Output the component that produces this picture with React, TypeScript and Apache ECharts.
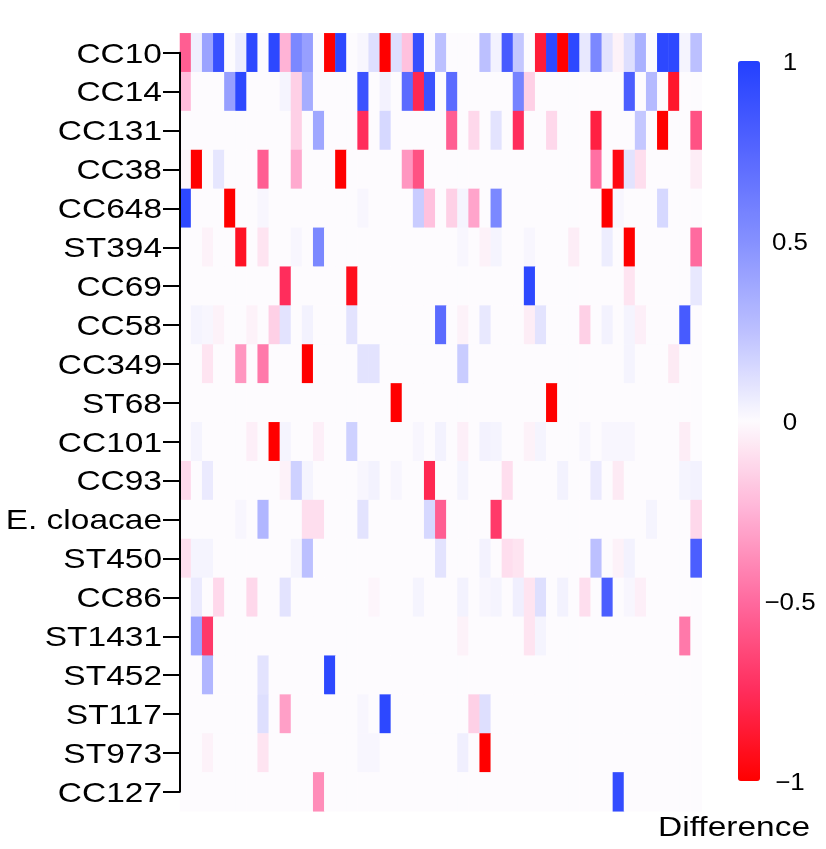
import React, { useEffect, useRef } from "react";
import * as echarts from "echarts";

// Row (strain) names, top to bottom
const rowNames = [
  "CC10", "CC14", "CC131", "CC38", "CC648", "ST394", "CC69", "CC58", "CC349", "ST68",
  "CC101", "CC93", "E. cloacae", "ST450", "CC86", "ST1431", "ST452", "ST117", "ST973", "CC127",
];

// One array per row: 47 column values each (difference, -1..1)
const CC10 = [
  -0.55, 0.05, 0.4, 0.9, 0, 0.06, 0.95, 0, 0.95, -0.25,
  0.55, 0.42, 0, -1, 0.95, 0, 0.02, 0.12, -1, 0.12,
  -0.2, 0.9, 0, 0.25, 0, 0, 0, 0.25, 0.04, 0.82,
  0.22, 0, -0.85, 0.95, -1, 0.95, 0.08, 0.55, 0.1, -0.03,
  0.12, 0.33, 0, 0.95, 0.95, 0.03, 0.25,
];
const CC14 = [
  -0.22, 0, 0, 0, 0.42, 0.95, 0, 0, 0, 0.03,
  -0.15, 0.35, 0, 0, 0, 0, 0.88, 0, 0.04, 0,
  0.72, -0.78, 0.88, 0, 0.72, 0, 0, 0, 0, 0,
  0.58, -0.15, 0, 0, 0, 0, 0, 0, 0, 0,
  0.8, 0, 0.28, 0, -0.88, 0, 0,
];
const CC131 = [
  0, 0, 0, 0, 0, 0, 0, 0, 0, 0,
  -0.15, 0, 0.38, 0, 0, 0, -0.75, 0, 0.15, 0,
  0, 0, 0, 0, -0.55, 0, -0.12, 0, 0.1, 0,
  -0.75, 0, 0, -0.12, 0, 0, 0, -0.82, 0, 0,
  0, 0.22, 0, -1, 0, 0, -0.6,
];
const CC38 = [
  -0.02, -1, 0, 0.09, 0, 0, 0, -0.55, 0, 0,
  -0.28, 0, 0, 0, -1, 0, 0, 0, 0, 0,
  -0.35, -0.6, 0, 0, 0, 0, 0, 0, 0, 0,
  0, 0, 0, 0, 0, 0, 0, -0.48, 0, -0.95,
  0.1, -0.1, 0, 0, 0, 0, -0.05,
];
const CC648 = [
  0.95, 0, 0, 0, -1, 0, 0, 0.02, 0, 0,
  0, 0, 0, 0, 0, 0, 0.02, 0, 0, 0,
  0, 0.2, -0.2, 0, -0.15, 0.03, -0.3, 0, 0.55, 0,
  0, 0, 0, 0, 0, 0, 0, 0, -1, 0.02,
  0, 0, 0, 0.15, 0, 0, 0,
];
const ST394 = [
  0, 0, -0.03, 0, 0, -0.9, 0, -0.08, 0, 0,
  0.02, 0, 0.55, 0, 0, 0, 0, 0, 0, 0,
  0, 0, 0, 0, 0, 0.02, 0, -0.03, 0.03, 0,
  0, 0.02, 0, 0, 0, -0.05, 0, 0, 0.06, 0,
  -1, 0, 0, 0, 0, 0, -0.5,
];
const CC69 = [
  0, 0, 0, 0, 0, 0, 0, 0, 0, -0.75,
  0, 0, 0, 0, 0, -0.92, 0, 0, 0, 0,
  0, 0, 0, 0, 0, 0, 0, 0, 0, 0,
  0, 0.95, 0, 0, 0, 0, 0, 0, 0, 0,
  -0.08, 0, 0, 0, 0, 0, 0.08,
];
const CC58 = [
  0, 0.03, 0.02, -0.03, 0, 0, -0.03, 0, -0.15, 0.1,
  0, 0.04, 0, 0, 0, 0.1, 0, 0, 0, 0,
  0, 0, 0, 0.72, 0, -0.03, 0, 0.08, 0, 0,
  0, -0.05, 0.1, 0, 0, 0, -0.15, 0, 0.04, 0,
  0.03, -0.04, 0, 0, 0, 0.82, 0,
];
const CC349 = [
  0, 0, -0.08, 0, 0, -0.35, 0, -0.45, 0, 0,
  0, -1, 0, 0, 0, 0, 0.1, 0.1, 0, 0,
  0, 0, 0, 0, 0, 0.2, 0, 0, 0, 0,
  0, 0, 0, 0, 0, 0, 0, 0, 0, 0,
  0.03, 0, 0, 0, -0.06, 0, 0,
];
const ST68 = [
  0, 0, 0, 0, 0, 0, 0, 0, 0, 0,
  0, 0, 0, 0, 0, 0, 0, 0, 0, -1,
  0, 0, 0, 0, 0, 0, 0, 0, 0, 0,
  0, 0, 0, -1, 0, 0, 0, 0, 0, 0,
  0, 0, 0, 0, 0, 0, 0,
];
const CC101 = [
  0, 0.03, 0, 0, 0, 0, -0.04, 0, -1, 0.03,
  0, 0, -0.04, 0, 0, 0.18, 0, 0, 0, 0,
  0, 0.02, 0, 0.04, 0, -0.04, 0, 0.04, 0.03, 0,
  0, -0.03, 0.03, 0, 0, 0, 0.02, 0, 0.02, 0.02,
  0.02, 0, 0, 0, 0, -0.05, 0,
];
const CC93 = [
  -0.12, 0, 0.07, 0, 0, 0, 0, 0, 0, -0.03,
  0.18, 0.03, 0, 0, 0, 0, 0.02, 0.04, 0, 0.02,
  0, 0, -0.78, 0, 0, 0.03, 0, 0, 0, -0.1,
  0, 0, 0, 0, 0.04, 0, 0, 0.07, 0, -0.06,
  0, 0, 0, 0, 0, 0.03, 0.04,
];
const ECloacae = [
  0, 0, 0, 0, 0, 0.02, 0, 0.3, 0, 0,
  0, -0.1, -0.1, 0, 0, 0, 0.1, 0, 0, 0,
  0, 0, 0.15, -0.55, 0, 0, 0, 0, -0.7, 0,
  0, 0, 0, 0, 0, 0, 0, 0, 0, 0,
  0, 0, 0.03, 0, 0, 0, -0.12,
];
const ST450 = [
  -0.1, 0.03, 0.03, 0, 0, 0, 0, 0, 0, 0,
  0.03, 0.25, 0, 0, 0, 0, 0, 0, 0, 0,
  0, 0, 0, 0.1, 0, 0, 0, 0.04, 0, -0.1,
  -0.08, 0, 0, 0, 0, 0, 0, 0.25, 0, -0.03,
  0.04, 0, 0, 0, 0, 0, 0.8,
];
const CC86 = [
  0, 0.07, 0, -0.12, 0, 0, -0.12, 0, 0, 0.1,
  0, 0, 0, 0, 0, 0, 0, -0.02, 0, 0,
  0, 0.03, 0, 0, 0, 0.04, 0, 0.02, 0.03, 0,
  0.05, -0.08, 0.12, 0, 0.04, 0, -0.1, 0, 0.8, 0,
  0.02, -0.04, 0, 0, 0, 0, 0,
];
const ST1431 = [
  0, 0.4, -0.7, 0, 0, 0, 0, 0, 0, 0,
  0, 0, 0, 0, 0, 0, 0, 0, 0, 0,
  0, 0, 0, 0, 0, -0.03, 0, 0, 0, 0,
  0, -0.08, 0.03, 0, 0, 0, 0, 0, 0, 0,
  0, 0, 0, 0, 0, -0.45, 0,
];
const ST452 = [
  0, 0, 0.3, 0, 0, 0, 0, 0.1, 0, 0,
  0, 0, 0, 0.95, 0, 0, 0, 0, 0, 0,
  0, 0, 0, 0, 0, 0, 0, 0, 0, 0,
  0, 0, 0, 0, 0, 0, 0, 0, 0, 0,
  0, 0, 0, 0, 0, 0, 0,
];
const ST117 = [
  0, 0, 0, 0, 0, 0, 0, 0.12, 0, -0.32,
  0, 0, 0, 0, 0, 0, 0.02, 0, 0.95, 0,
  0, 0, 0, 0, 0, 0, -0.15, 0.12, 0, 0,
  0, 0, 0, 0, 0, 0, 0, 0, 0, 0,
  0, 0, 0, 0, 0, 0, 0,
];
const ST973 = [
  0, 0, -0.03, 0, 0, 0, 0, -0.08, 0, 0,
  0, 0, 0, 0, 0, 0, 0.02, 0.02, 0, 0,
  0, 0, 0, 0, 0, 0.05, 0, -1, 0, 0,
  0, 0, 0, 0, 0, 0, 0, 0, 0, 0,
  0, 0, 0, 0, 0, 0, 0,
];
const CC127 = [
  0, 0, 0, 0, 0, 0, 0, 0, 0, 0,
  0, 0, -0.38, 0, 0, 0, 0, 0, 0, 0,
  0, 0, 0, 0, 0, 0, 0, 0, 0, 0,
  0, 0, 0, 0, 0, 0, 0, 0, 0, 0.92,
  0, 0, 0, 0, 0, 0, 0,
];

const rowValues = [
  CC10, CC14, CC131, CC38, CC648, ST394, CC69, CC58, CC349, ST68,
  CC101, CC93, ECloacae, ST450, CC86, ST1431, ST452, ST117, ST973, CC127,
];

// Colour-bar tick labels and title
const legendTicks = [1, 0.5, 0, -0.5, -1];
const legendTitle = "Difference";

const FONT = "'Liberation Sans', Arial, Helvetica, sans-serif";
const SX = 1.24; // horizontal stretch of the text in the reference

export default function App() {
  const ref = useRef<HTMLDivElement>(null);

  useEffect(() => {
    if (!ref.current) return;
    const chart = echarts.init(ref.current, null, { renderer: "svg" });
    const columns = CC10.map((_, i) => "S" + (i + 1));
    const heatData: number[][] = [];
    rowValues.forEach((vals, r) => vals.forEach((v, c) => heatData.push([c, r, v])));

    const fmt = (v: number) => (v < 0 ? "\u2212" + String(-v) : String(v));

    chart.setOption({
      animation: false,
      textStyle: { fontFamily: FONT },
      grid: [
        { left: 180, top: 33.3, width: 521.7, height: 778 },
        { left: 180, top: 52.75, width: 521.7, height: 739.1 },
        { left: 738, top: 61, width: 22, height: 720 },
      ],
      xAxis: [
        { type: "category", data: columns, gridIndex: 0, show: false },
        { type: "value", gridIndex: 1, min: 0, max: 1, show: false },
        { type: "value", gridIndex: 2, min: 0, max: 1, show: false },
      ],
      yAxis: [
        { type: "category", data: rowNames, gridIndex: 0, inverse: true, show: false },
        {
          type: "category",
          data: rowNames,
          gridIndex: 1,
          inverse: true,
          boundaryGap: false,
          z: 5,
          axisLine: { show: true, lineStyle: { color: "#000", width: 2 } },
          axisTick: { show: true, length: 17, lineStyle: { color: "#000", width: 2 } },
          axisLabel: { show: false },
          splitLine: { show: false },
        },
        { type: "value", gridIndex: 2, min: -1, max: 1, interval: 0.5, show: false },
      ],
      visualMap: {
        type: "continuous",
        min: -1,
        max: 1,
        seriesIndex: 0,
        calculable: false,
        hoverLink: false,
        orient: "vertical",
        left: 738,
        top: 61,
        itemWidth: 22,
        itemHeight: 720,
        padding: 0,
        text: ["", ""],
        inRange: {
          color: [
            "#ff0000", "#ff2d5c", "#ff6a9f", "#ffb3d6", "#fdfbfe",
            "#bcc0ff", "#8590ff", "#5566ff", "#2340ff",
          ],
        },
      },
      series: [
        {
          type: "heatmap",
          xAxisIndex: 0,
          yAxisIndex: 0,
          data: heatData,
          itemStyle: { borderWidth: 0 },
          emphasis: { disabled: true },
          silent: true,
        },
        {
          type: "custom",
          xAxisIndex: 1,
          yAxisIndex: 1,
          clip: false,
          silent: true,
          z: 10,
          data: rowNames.map((_, i) => [0, i]),
          renderItem: (params: any, api: any) => {
            const p = api.coord([api.value(0), api.value(1)]);
            return {
              type: "text",
              x: p[0] - 18,
              y: p[1],
              scaleX: SX,
              style: {
                text: rowNames[params.dataIndex],
                fontSize: 27,
                fontFamily: FONT,
                fill: "#000",
                align: "right",
                verticalAlign: "middle",
              },
            };
          },
        },
        {
          type: "custom",
          xAxisIndex: 2,
          yAxisIndex: 2,
          clip: false,
          silent: true,
          z: 10,
          data: legendTicks.map((v) => [1, v]),
          renderItem: (params: any, api: any) => {
            const p = api.coord([api.value(0), api.value(1)]);
            return {
              type: "text",
              x: p[0] + 30,
              y: p[1],
              scaleX: 1.08,
              style: {
                text: fmt(legendTicks[params.dataIndex]),
                fontSize: 24,
                fontFamily: FONT,
                fill: "#000",
                align: "center",
                verticalAlign: "middle",
              },
            };
          },
        },
      ],
      graphic: [
        {
          type: "text",
          x: 810,
          y: 826,
          scaleX: SX,
          silent: true,
          style: {
            text: legendTitle,
            fontSize: 27,
            fontFamily: FONT,
            fill: "#000",
            align: "right",
            verticalAlign: "middle",
          },
        },
      ],
    });

    return () => chart.dispose();
  }, []);

  return (
    <div
      ref={ref}
      style={{ position: "fixed", left: 0, top: 0, width: 826, height: 849 }}
    />
  );
}
